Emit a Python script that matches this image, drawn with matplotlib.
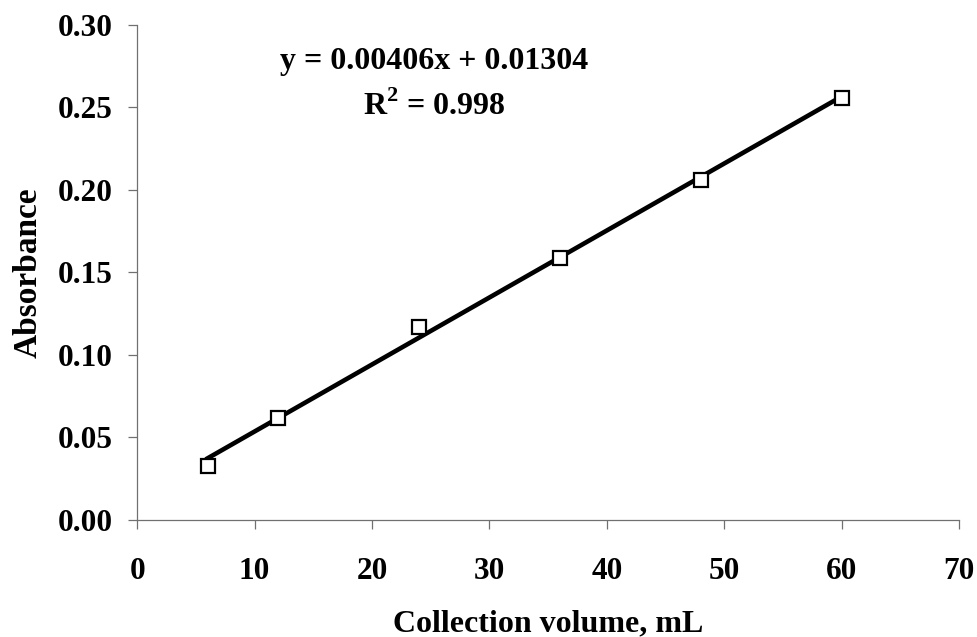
import numpy as np
import matplotlib.pyplot as plt

# Calibration points
volume = [6, 12, 24, 36, 48, 60]
absorbance = [0.033, 0.062, 0.117, 0.159, 0.206, 0.2555]

# Linear fit as printed on the chart
slope = 0.00406
intercept = 0.01304
r_squared = 0.998

x_ticks = [0, 10, 20, 30, 40, 50, 60, 70]
y_ticks = [0.00, 0.05, 0.10, 0.15, 0.20, 0.25, 0.30]

plt.rcParams['font.family'] = ['Liberation Serif', 'DejaVu Serif']
plt.rcParams['font.weight'] = 'bold'
plt.rcParams['mathtext.fontset'] = 'custom'
plt.rcParams['mathtext.rm'] = 'Liberation Serif:bold'
plt.rcParams['mathtext.bf'] = 'Liberation Serif:bold'

fig = plt.figure(figsize=(9.78, 6.37), dpi=100)
ax = fig.add_axes([0.1403, 0.1837, 0.8403, 0.7771])

# trendline from the fitted equation
x_fit = np.array([volume[0], volume[-1]])
ax.plot(x_fit, slope * x_fit + intercept, color='black', linewidth=3.3, zorder=2)

ax.plot(volume, absorbance, linestyle='none', marker='s', markersize=10.5,
        markerfacecolor='white', markeredgecolor='black', markeredgewidth=1.6,
        zorder=3)

ax.set_xlim(0, 70)
ax.set_ylim(0, 0.30)
ax.set_xticks(x_ticks)
ax.set_yticks(y_ticks)
ax.set_yticklabels([f"{v:.2f}" for v in y_ticks])

for side in ['top', 'right']:
    ax.spines[side].set_visible(False)
for side in ['left', 'bottom']:
    ax.spines[side].set_color('#707070')
    ax.spines[side].set_linewidth(0.9)

ax.tick_params(axis='both', direction='out', length=6.5, width=0.9,
               color='#707070', labelsize=22.5)
ax.tick_params(axis='x', pad=20)
ax.tick_params(axis='y', pad=11)

ax.set_xlabel("Collection volume, mL", fontsize=23, fontweight='bold', labelpad=17)
ax.set_ylabel("Absorbance", fontsize=24, fontweight='bold', labelpad=10)

ax.text(0.3608, 0.926, f"y = {slope:.5f}x + {intercept:.5f}", transform=ax.transAxes,
        ha='center', va='center', fontsize=23, fontweight='bold')
ax.text(0.362, 0.835, f"R$^\\mathbf{{2}}$ = {r_squared:.3f}", transform=ax.transAxes,
        ha='center', va='center', fontsize=23, fontweight='bold')

fig.savefig("out.png", dpi=100)
